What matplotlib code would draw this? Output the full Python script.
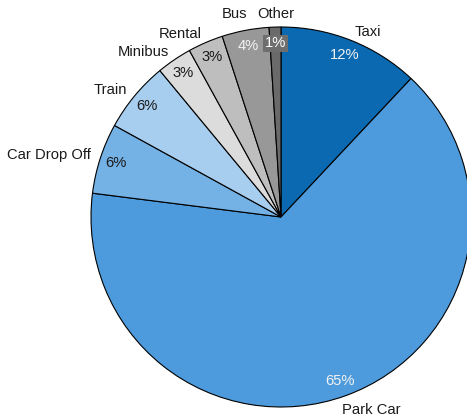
import matplotlib
matplotlib.use("Agg")
import matplotlib.pyplot as plt

# Mode of transport shares (percent), clockwise from 12 o'clock
categories = ["Taxi", "Park Car", "Car Drop Off", "Train", "Minibus", "Rental", "Bus", "Other"]
shares = [12, 65, 6, 6, 3, 3, 4, 1]
colors = ["#0a69b0", "#4d9bdc", "#74b1e4", "#a7cdef", "#dcdcdc", "#bebebe", "#989898", "#6a6a6a"]
pct_text_colors = ["#f2f2f2", "#f2f2f2", "#1a1a1a", "#1a1a1a", "#1a1a1a", "#1a1a1a", "#f2f2f2", "#ffffff"]

plt.rcParams["font.family"] = ["Liberation Sans", "DejaVu Sans"]
FS = 10.6

W, H, DPI = 467, 419, 100
fig = plt.figure(figsize=(W / DPI, H / DPI), dpi=DPI)
ax = fig.add_axes([0, 0, 1, 1])

R = 190.0        # pie radius in pixels
CX, CY = 281.0, 217.0  # pie centre in pixels (from top-left)

wedges, texts, autotexts = ax.pie(
    shares,
    labels=categories,
    colors=colors,
    startangle=90,
    counterclock=False,
    radius=1.0,
    labeldistance=1.05,
    pctdistance=0.915,
    autopct="%d%%",
    wedgeprops=dict(edgecolor="black", linewidth=0.8),
    textprops=dict(fontsize=FS, color="#1a1a1a"),
)

for t, c in zip(autotexts, pct_text_colors):
    t.set_color(c)
    t.set_fontsize(FS)

# Keep the small "Other" share legible with a dark backing box
autotexts[-1].set_bbox(dict(boxstyle="square,pad=0.1", facecolor="#6e6e6e", edgecolor="none"))

def px(x, y):
    return (x - CX) / R, (CY - y) / R

# Crowded labels at the top and the long bottom label are nudged
texts[1].set_position(px(342, 410))
texts[1].set_ha("left")
texts[6].set_position(px(247, 14))
texts[6].set_ha("right")
texts[7].set_position(px(257, 14))
texts[7].set_ha("left")

ax.set_xlim(-CX / R, (W - CX) / R)
ax.set_ylim(-(H - CY) / R, CY / R)
ax.set_aspect("auto")
ax.axis("off")

fig.savefig("out.png", dpi=DPI)
